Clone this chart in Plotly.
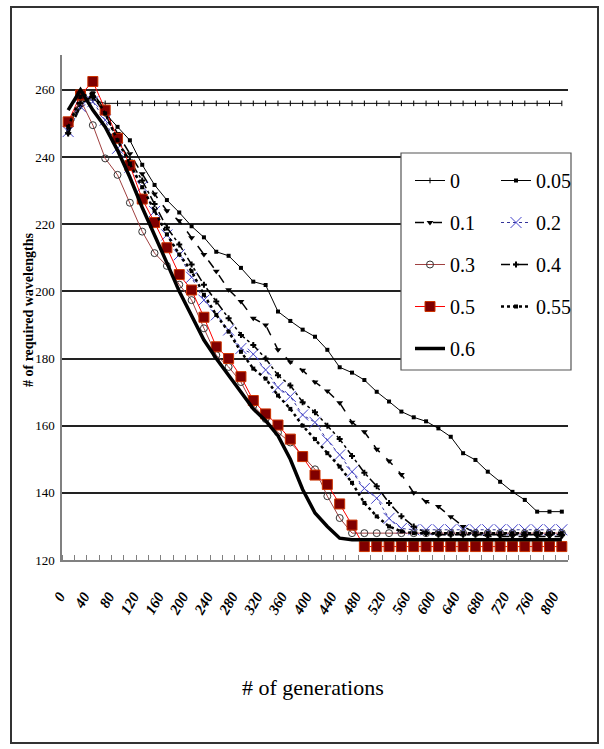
import plotly.graph_objects as go

generations = list(range(0, 801, 20))

s_0 = [250, 257, 257] + [256] * 38
s_005 = [248, 257, 258, 253, 249, 245, 237.7, 231.7, 227.2, 223.5, 219.4, 216.1, 211.8, 210.6,
         207, 202.9, 201.9, 194, 191.2, 188.6, 186.5, 182.6, 177.4, 175.8, 173.6, 170.1, 167.2,
         164.2, 162.5, 161.3, 159.2, 156.7, 151.8, 149.8, 146.3, 143.3, 140.3, 137.9, 134.4,
         134.4, 134.4]
s_01 = [247, 255, 259, 254, 247, 241, 235, 229, 224, 221, 216, 211, 206, 200.5, 197, 192, 190,
        182.6, 179, 176.5, 173, 170.3, 166.8, 161, 158.2, 153, 149.5, 145.5, 140, 137.4, 135.9,
        132.9, 130, 128] + [127] * 7
s_02 = [247.6, 255, 256.5, 251, 242.6, 237, 231.2, 223.8, 216.8, 210.9, 204.2, 197.4, 193,
        188.5, 183, 181.3, 176.6, 171.4, 168.7, 163.2, 161, 155.7, 151.3, 146.3, 141.3, 138.4,
        132.4, 129.4] + [129] * 13
s_03 = [250, 257, 249.5, 239.6, 234.7, 226.4, 217.8, 211.4, 207.6, 202, 197.4, 189, 181, 177.5,
        173, 166, 162, 158, 155, 151, 147, 139, 132.5] + [128] * 18
s_04 = [247, 256, 258, 253, 245, 239, 233, 226, 219, 214, 208, 202, 197, 192, 187, 184, 180,
        175, 172, 167, 164, 160, 156, 151, 146, 142, 137, 133, 130, 128] + [127.5] * 11
s_05 = [250.5, 258.5, 262.5, 254, 245.6, 237.5, 227.5, 220.5, 213, 205, 200.4, 192.3, 183.5,
        180, 174.6, 167.5, 163.5, 160.2, 156, 150.8, 145.3, 142.5, 136.7, 130.4] + [124] * 17
s_055 = [249, 258, 259, 253, 245, 238, 231, 224, 217, 211, 206, 199, 193, 188, 182, 177, 174,
         169, 165, 160, 156, 151.8, 147.8, 143, 137, 133, 130, 128.5] + [128] * 13
s_06 = [254, 260, 254, 249, 242, 234, 225, 217, 208.5, 200, 192.5, 185.5, 180, 175, 170, 165,
        161.5, 157, 150, 141, 134, 130, 126.5] + [126] * 18

y_ticks = [120, 140, 160, 180, 200, 220, 240, 260]
x_ticks = list(range(0, 801, 40))

SERIF = "Liberation Serif, Times New Roman, serif"

fig = go.Figure()

def add(name, y, legend, line, marker=None, mode="lines+markers"):
    fig.add_trace(go.Scatter(
        x=generations, y=y, name=name, mode=mode, line=line,
        marker=marker or {}, legend=legend, legendgroup=name,
    ))

add("0", s_0, "legend", dict(color="black", width=1),
    dict(symbol="line-ns", size=4, line=dict(color="black", width=1)))
add("0.05", s_005, "legend2", dict(color="black", width=1),
    dict(symbol="square", size=4, color="black"))
add("0.1", s_01, "legend", dict(color="black", width=1.5, dash="dash"),
    dict(symbol="triangle-down", size=6, color="black"))
add("0.2", s_02, "legend2", dict(color="#333399", width=1, dash="dot"),
    dict(symbol="x-thin-open", size=11, color="#4444CC", line=dict(color="#4444CC", width=1)))
add("0.3", s_03, "legend", dict(color="#A04040", width=1),
    dict(symbol="circle-open", size=7, color="#333333", line=dict(color="#333333", width=1)))
add("0.4", s_04, "legend2", dict(color="black", width=1.5, dash="dashdot"),
    dict(symbol="cross", size=5, color="black"))
add("0.5", s_05, "legend", dict(color="#FF0000", width=1),
    dict(symbol="square", size=10, color="#800000", line=dict(color="#CC3300", width=1)))
add("0.55", s_055, "legend2", dict(color="black", width=2.5, dash="dot"),
    dict(symbol="square", size=4, color="black"))
add("0.6", s_06, "legend", dict(color="black", width=3.5), mode="lines")

W, H = 604, 749
L, R, T, B = 62, 36, 55, 189
pw, ph = W - L - R, H - T - B

def px(x):
    return (x - L) / pw

def py(y):
    return 1 - (y - T) / ph

legend_common = dict(
    orientation="v", font=dict(family=SERIF, size=20, color="black"),
    bgcolor="rgba(0,0,0,0)", borderwidth=0, tracegroupgap=13,
    xanchor="left", yanchor="top", itemsizing="trace",
)

fig.update_layout(
    width=W, height=H,
    margin=dict(l=L, r=R, t=T, b=B),
    paper_bgcolor="white", plot_bgcolor="white",
    showlegend=True,
    legend=dict(x=px(410), y=py(161), **legend_common),
    legend2=dict(x=px(496), y=py(161), **legend_common),
    xaxis=dict(
        range=[-10, 810], tickvals=x_ticks, ticktext=[str(v) for v in x_ticks],
        ticks="", tickangle=-60, ticklabelstandoff=20, ticklabelshift=-9,
        tickfont=dict(family=SERIF, size=15, color="black", weight="bold", style="italic"),
        showgrid=False, zeroline=False, showline=True, linecolor="#808080", linewidth=1.5,
        minor=dict(tickvals=[v - 10 for v in generations] + [810], ticks="inside",
                   ticklen=5, tickcolor="#808080", tickwidth=1, showgrid=False),
    ),
    yaxis=dict(
        range=[120, 270.4], tickvals=y_ticks, ticks="",
        tickfont=dict(family=SERIF, size=13, color="black"), ticklabelstandoff=3,
        showgrid=True, gridcolor="#222222", gridwidth=1.5, zeroline=False,
        showline=True, linecolor="#808080", linewidth=1.5,
    ),
    shapes=[
        dict(type="rect", xref="paper", yref="paper",
             x0=px(401), x1=px(571), y0=py(370), y1=py(153),
             fillcolor="white", line=dict(color="#555555", width=1.2), layer="above"),
        dict(type="rect", xref="paper", yref="paper",
             x0=px(11), x1=px(598), y0=py(743), y1=py(7),
             fillcolor="rgba(0,0,0,0)", line=dict(color="#333333", width=2), layer="above"),
    ],
    annotations=[
        dict(text="# of required wavelengths", xref="paper", yref="paper",
             x=px(28), y=py(310), xanchor="center", yanchor="middle",
             textangle=-90, showarrow=False,
             font=dict(family=SERIF, size=14, color="black", weight="bold")),
        dict(text="# of generations", xref="paper", yref="paper",
             x=px(313), y=py(687), xanchor="center", yanchor="middle", showarrow=False,
             font=dict(family=SERIF, size=22, color="black")),
    ],
)

fig.write_html("out.html")
